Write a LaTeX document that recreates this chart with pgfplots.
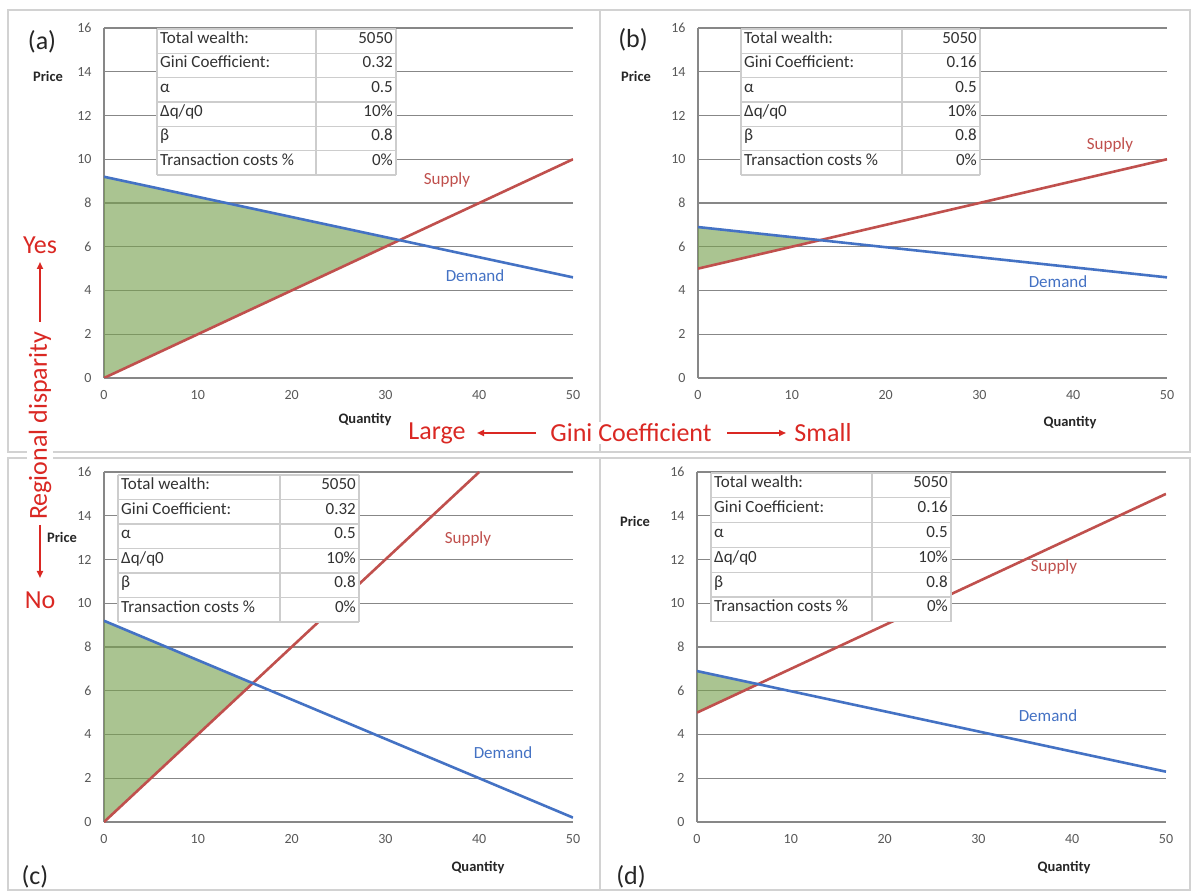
\documentclass[border=0pt]{standalone}
\usepackage{fontspec}
\setmainfont{Carlito}
\usepackage{pgfplots}
\pgfplotsset{compat=1.18}
\usetikzlibrary{arrows.meta}

\definecolor{demand}{RGB}{68,114,196}
\definecolor{supply}{RGB}{192,80,77}
\definecolor{surplus}{RGB}{119,160,78}
\definecolor{gridc}{RGB}{135,135,135}
\definecolor{framec}{RGB}{210,210,210}
\definecolor{annot}{RGB}{218,40,35}
\definecolor{ticktext}{RGB}{89,89,89}
\definecolor{tabline}{RGB}{205,205,205}
\definecolor{tabtext}{RGB}{50,50,50}

\pgfplotsset{
  panel/.style={
    scale only axis, width=469pt, height=350pt,
    anchor=south west,
    xmin=0, xmax=50, ymin=0, ymax=16,
    xtick={0,10,...,50}, ytick={0,2,...,16},
    axis x line*=bottom, axis y line*=left,
    axis line style={draw=gridc, line width=1.3pt},
    ymajorgrids, major grid style={draw=gridc, line width=1.3pt},
    major tick length=0pt,
    tick label style={font=\fontsize{14}{16}\selectfont, text=ticktext},
    /pgf/number format/assume math mode=true,
    yticklabel style={anchor=east, xshift=-9pt},
    xticklabel style={anchor=north, yshift=-9pt},
  },
  sup/.style={supply, line width=2.6pt},
  dem/.style={demand, line width=2.6pt},
  surp/.style={fill=surplus, fill opacity=0.62, draw=none},
}

\tikzset{
  tt/.style={font=\fontsize{17}{19}\selectfont, text=tabtext, inner sep=0pt, text height=0.68em, text depth=0.18em},
  lab/.style={font=\bfseries\fontsize{14.5}{16}\selectfont, text=black!85},
  curve/.style={font=\fontsize{17}{19}\selectfont},
  plet/.style={font=\fontsize{26}{28}\selectfont, text=black!85},
  ann/.style={font=\fontsize{26}{28}\selectfont, text=annot},
}

% #1 x0, #2 xdiv, #3 x1, #4 Ytop, #5 row height, #6 gini
\newcommand{\gtable}[6]{%
  \fill[white] (#1,#4) rectangle (#3,{#4-6*#5});
  \foreach \i in {0,...,6} {\draw[tabline, line width=1.2pt] (#1,{#4-\i*#5}) -- (#3,{#4-\i*#5});}
  \foreach \xx in {#1,#2,#3} {\draw[tabline, line width=1.2pt] (\xx,#4) -- (\xx,{#4-6*#5});}
  \node[tt, anchor=west] at ({#1+3},{#4-0.5*#5}) {Total wealth:};
  \node[tt, anchor=east] at ({#3-3},{#4-0.5*#5}) {5050};
  \node[tt, anchor=west] at ({#1+3},{#4-1.5*#5}) {Gini Coefficient:};
  \node[tt, anchor=east] at ({#3-3},{#4-1.5*#5}) {#6};
  \node[tt, anchor=west] at ({#1+3},{#4-2.5*#5}) {α};
  \node[tt, anchor=east] at ({#3-3},{#4-2.5*#5}) {0.5};
  \node[tt, anchor=west] at ({#1+3},{#4-3.5*#5}) {Δq/q0};
  \node[tt, anchor=east] at ({#3-3},{#4-3.5*#5}) {10\%};
  \node[tt, anchor=west] at ({#1+3},{#4-4.5*#5}) {β};
  \node[tt, anchor=east] at ({#3-3},{#4-4.5*#5}) {0.8};
  \node[tt, anchor=west] at ({#1+3},{#4-5.5*#5}) {Transaction costs \%};
  \node[tt, anchor=east] at ({#3-3},{#4-5.5*#5}) {0\%};
}

\begin{document}
\begin{tikzpicture}[x=1pt,y=1pt]
\path[use as bounding box] (0,0) rectangle (1194,892);
\fill[white] (0,0) rectangle (1194,892);
% panel frames
\draw[framec, line width=1.5pt] (8,882) rectangle (600,440);
\draw[framec, line width=1.5pt] (600,882) rectangle (1190,440);
\draw[framec, line width=1.5pt] (8,434) rectangle (600,2);
\draw[framec, line width=1.5pt] (600,434) rectangle (1190,2);

% ---------- (a) ----------
\begin{axis}[panel, at={(104pt,514pt)}]
  \addplot[surp] coordinates {(0,0) (0,9.2) (31.5,6.3) (0,0)};
  \addplot[sup] coordinates {(0,0) (50,10)};
  \addplot[dem] coordinates {(0,9.2) (50,4.6)};
\end{axis}
\gtable{157}{316}{396}{863}{24.33}{0.32}
\node[curve, text=supply] at (447,712) {Supply};
\node[curve, text=demand] at (475,616) {Demand};
\node[lab] at (48,816) {Price};
\node[lab] at (365,472) {Quantity};
\node[plet] at (42,850) {(a)};

% ---------- (b) ----------
\begin{axis}[panel, at={(698pt,514pt)}]
  \addplot[surp] coordinates {(0,5) (0,6.9) (13.0,6.3) (0,5)};
  \addplot[sup] coordinates {(0,5) (50,10)};
  \addplot[dem] coordinates {(0,6.9) (50,4.6)};
\end{axis}
\gtable{741}{902}{980}{863}{24.33}{0.16}
\node[curve, text=supply] at (1110,747) {Supply};
\node[curve, text=demand] at (1058,610) {Demand};
\node[lab] at (636,816) {Price};
\node[lab] at (1070,469) {Quantity};
\node[plet] at (633,852) {(b)};

% ---------- (c) ----------
\begin{axis}[panel, at={(104pt,70pt)}]
  \addplot[surp] coordinates {(0,0) (0,9.2) (15.86,6.34) (0,0)};
  \addplot[sup] coordinates {(0,0) (40,16)};
  \addplot[dem] coordinates {(0,9.2) (50,0.2)};
\end{axis}
\gtable{118}{280}{359}{417}{24.5}{0.32}
\node[curve, text=supply] at (468,353) {Supply};
\node[curve, text=demand] at (503,139) {Demand};
\node[lab] at (62,355) {Price};
\node[lab] at (478,24) {Quantity};
\node[plet] at (35,15) {(c)};

% ---------- (d) ----------
\begin{axis}[panel, at={(697pt,70pt)}]
  \addplot[surp] coordinates {(0,5) (0,6.9) (6.5,6.3) (0,5)};
  \addplot[sup] coordinates {(0,5) (50,15)};
  \addplot[dem] coordinates {(0,6.9) (50,2.3)};
\end{axis}
\gtable{711}{872}{951}{419}{24.8}{0.16}
\node[curve, text=supply] at (1054,325) {Supply};
\node[curve, text=demand] at (1048,176) {Demand};
\node[lab] at (635,371) {Price};
\node[lab] at (1064,24) {Quantity};
\node[plet] at (631,15) {(d)};

% ---------- annotations ----------
\node[ann, fill=white, inner sep=2pt] at (631,459) {Gini Coefficient};
\node[ann] at (437,459) {Large};
\node[ann] at (823,459) {Small};
\draw[annot, line width=1.8pt, -{Triangle[length=7pt,width=6pt]}] (536,459) -- (477,459);
\draw[annot, line width=1.8pt, -{Triangle[length=7pt,width=6pt]}] (727,459) -- (786,459);

\node[ann, rotate=90, fill=white, inner sep=2pt] at (40,466) {Regional disparity};
\node[ann] at (40,647) {Yes};
\node[ann] at (40,292) {No};
\draw[annot, line width=1.8pt, -{Triangle[length=7pt,width=6pt]}] (40,570) -- (40,630);
\draw[annot, line width=1.8pt, -{Triangle[length=7pt,width=6pt]}] (40,367) -- (40,314);
\end{tikzpicture}
\end{document}
